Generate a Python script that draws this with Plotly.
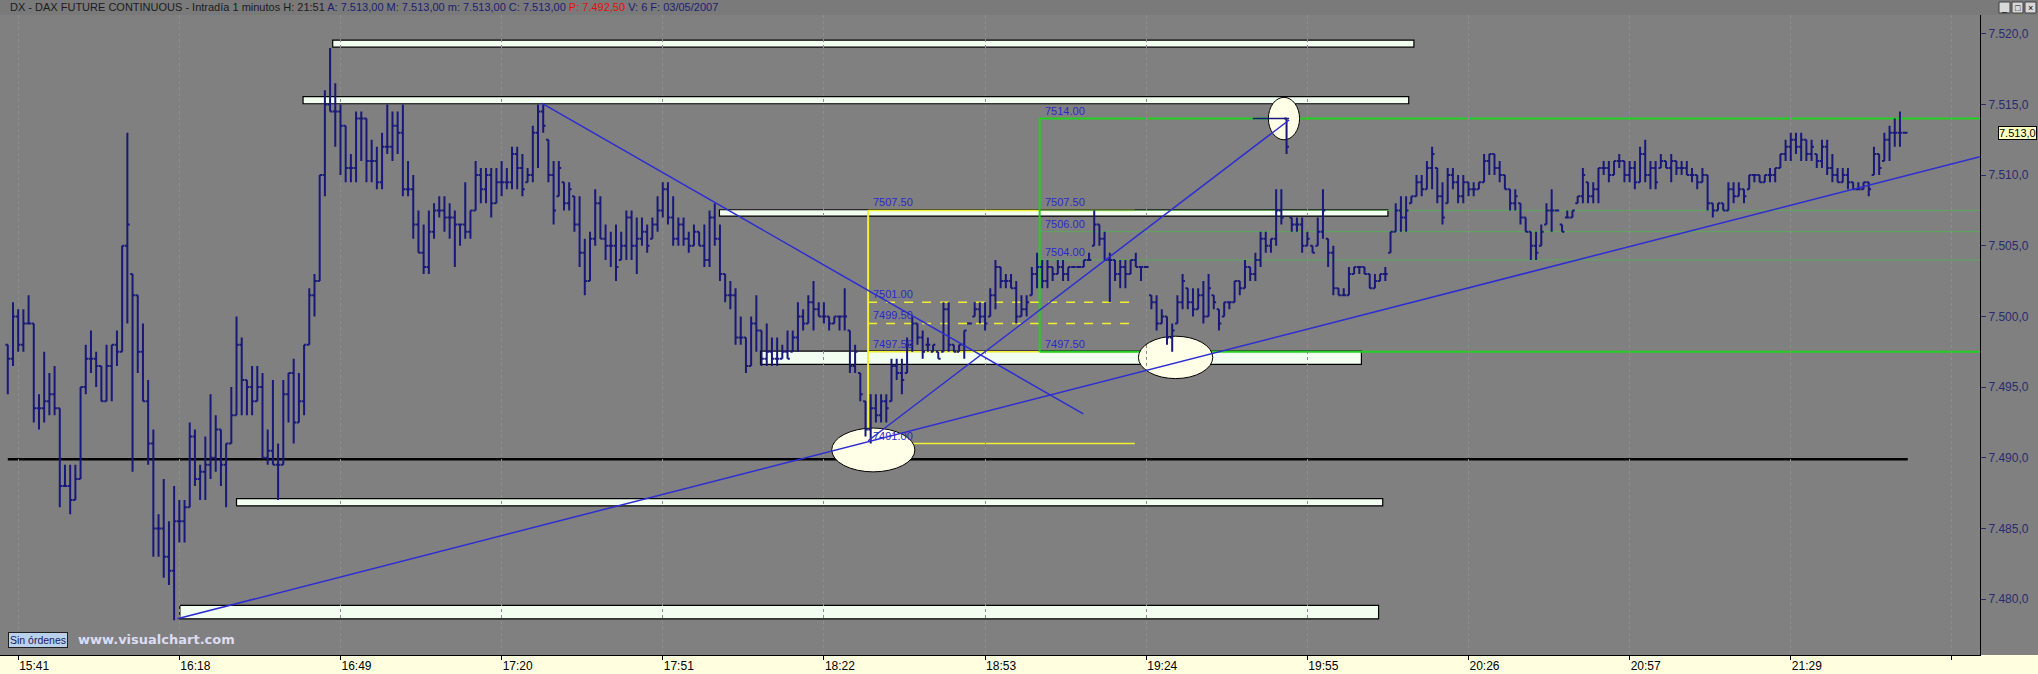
import plotly.graph_objects as go

# ---------------- data (1-minute OHLC bars, DAX future, 03/05/2007) ----------------
bar_open = [
    7498, 7497, 7500, 7498, 7499.5, 7499.5, 7493.5, 7493.5, 7494, 7494.5,
    7493.5, 7488, 7488, 7487, 7488.5, 7495, 7497, 7497, 7496.5, 7494,
    7496.5, 7498, 7497.5, 7505, 7503, 7501.5, 7497.5, 7494, 7491, 7485,
    7485, 7483, 7482, 7485.5, 7485.5, 7486.5, 7491.5, 7488.5, 7489, 7489.5,
    7490, 7492, 7489.5, 7491, 7493, 7498, 7495.5, 7495, 7494, 7495,
    7490, 7490.5, 7489.5, 7489.5, 7494.5, 7496, 7492.5, 7494, 7498, 7501.5,
    7502.5, 7510, 7515, 7514.5, 7514.5, 7513.5, 7510.5, 7510.5, 7514, 7514,
    7511, 7511, 7509.5, 7512, 7512, 7513.5, 7513, 7509, 7509, 7506.5,
    7504.5, 7503.5, 7506, 7507.5, 7507.5, 7507, 7507, 7506.5, 7506.5, 7506,
    7507.5, 7510, 7509, 7510, 7508, 7509.5, 7509.5, 7509.5, 7511.5, 7510.5,
    7509.5, 7510, 7513, 7514.5, 7512.5, 7510, 7508.5, 7509.5, 7508, 7508.5,
    7506.5, 7504.5, 7502.5, 7505.5, 7508, 7505.5, 7505, 7505, 7504, 7505,
    7507, 7505, 7505.5, 7506, 7505.5, 7506.5, 7507.5, 7509, 7507, 7505.5,
    7506.5, 7505.5, 7505, 7506, 7505, 7504, 7507, 7505.5, 7503, 7501.5,
    7501.5, 7498.5, 7498.5, 7496.5, 7499.5, 7499, 7497, 7497.5, 7497, 7497,
    7497.5, 7497.5, 7498.5, 7500, 7499.5, 7501, 7500.5, 7500, 7500, 7499.5,
    7500, 7500, 7499, 7496.5, 7496, 7494, 7492, 7493.5, 7493, 7494,
    7494, 7496.5, 7496, 7496, 7498, 7499.5, 7498.5, 7498, 7497.5, 7497.5,
    7497.5, 7500.5, 7498, 7497.5, 7498, 7499.5, 7500, 7500.5, 7500, 7500,
    7501.5, 7503.5, 7502.5, 7502.5, 7502, 7500, 7500.5, 7501.5, 7503, 7503.5,
    7502.5, 7503.5, 7503, 7503.5, 7503, 7503.5, 7503.5, 7503.5, 7504, 7505,
    7506.5, 7505.5, 7504, 7504, 7503, 7503.5, 7503, 7504, 7503.5, 7503.5,
    7501.5, 7501, 7499.5, 7500, 7498.5, 7499.5, 7501, 7502, 7501, 7500.5,
    7501.5, 7500, 7501.5, 7500.5, 7500, 7501, 7501, 7502.5, 7502, 7503.5,
    7503, 7504, 7505.5, 7505, 7505.5, 7507.5, 7514, 7507, 7506.5, 7506.5,
    7505, 7505, 7505, 7506, 7505.5, 7504.5, 7502, 7501.5, 7501.5, 7503,
    7503.5, 7503.5, 7503, 7502, 7502.5, 7503, 7504.5, 7506, 7507.5, 7507,
    7508, 7508.5, 7509.5, 7509, 7510.5, 7510.5, 7508.5, 7508, 7510, 7509.5,
    7508.5, 7509.5, 7509, 7509, 7509.5, 7511, 7511.5, 7510.5, 7510, 7509,
    7508, 7508, 7507, 7506, 7505, 7505, 7506.5, 7507.5, 7507.5, 7506.5,
    7507, 7507, 7508, 7508.5, 7509.5, 7508.5, 7509, 7510.5, 7510.5, 7510,
    7511, 7511, 7510, 7510.5, 7509.5, 7511.5, 7510, 7510.5, 7510.5, 7511,
    7510.5, 7511, 7510.5, 7510.5, 7510, 7510, 7509.5, 7510, 7508, 7507.5,
    7508, 7507.5, 7509, 7508.5, 7509, 7509, 7510, 7510, 7509.5, 7510,
    7510, 7510.5, 7511.5, 7512, 7512.5, 7512, 7512.5, 7511.5, 7511.5, 7511,
    7512, 7510.5, 7510, 7509.5, 7510, 7509.5, 7509, 7509, 7509.5, 7510,
    7511.5, 7511, 7512.5, 7513, 7513, 7513,
]
bar_high = [
    7498, 7501, 7500.5, 7500.5, 7501.5, 7499.5, 7494.5, 7497.5, 7496, 7496.5,
    7493.5, 7489.5, 7489.5, 7489.5, 7495, 7498, 7499, 7497.5, 7496.5, 7498,
    7498, 7499, 7505, 7513, 7503, 7501.5, 7499.5, 7495.5, 7492, 7486,
    7488.5, 7485.5, 7488, 7487, 7487, 7492.5, 7492, 7489.5, 7491.5, 7494.5,
    7493, 7492, 7491, 7495, 7500, 7498.5, 7495.5, 7496.5, 7496.5, 7496,
    7492, 7495.5, 7491, 7495.5, 7496, 7497, 7496, 7498, 7502, 7503,
    7510, 7516, 7519, 7516.5, 7515, 7513.5, 7511.5, 7514.5, 7514.5, 7514,
    7512.5, 7512, 7513, 7515, 7514.5, 7514.5, 7515, 7511, 7510, 7507.5,
    7506.5, 7507.5, 7508, 7508.5, 7508.5, 7508, 7507.5, 7506.5, 7509.5, 7507.5,
    7511, 7510.5, 7510.5, 7510.5, 7510.5, 7511, 7510.5, 7512, 7512, 7511.5,
    7510.5, 7513.5, 7515, 7515, 7512.5, 7511, 7511, 7509.5, 7509.5, 7508.5,
    7508.5, 7505.5, 7506, 7509, 7508.5, 7506.5, 7506, 7506.5, 7506, 7507.5,
    7507.5, 7507, 7507, 7506.5, 7507, 7508.5, 7509.5, 7509.5, 7508.5, 7507,
    7507, 7506, 7506.5, 7506, 7506.5, 7507.5, 7508, 7506.5, 7503, 7502.5,
    7502, 7500, 7498.5, 7500, 7501.5, 7499, 7499.5, 7498.5, 7498.5, 7498,
    7499, 7499, 7501, 7500.5, 7501.5, 7502.5, 7501, 7501, 7500, 7500,
    7500, 7502, 7499, 7498, 7496, 7494, 7494.5, 7494.5, 7494.5, 7494.5,
    7497, 7497, 7497, 7498.5, 7500, 7499.5, 7499, 7498.5, 7498, 7497.5,
    7501, 7501, 7498, 7498, 7499, 7499.5, 7501, 7501, 7501, 7502,
    7504, 7503.5, 7503, 7503, 7502.5, 7501.5, 7501.5, 7503.5, 7504.5, 7504,
    7504, 7503.5, 7504, 7504, 7503.5, 7503.5, 7503.5, 7504, 7504.5, 7507.5,
    7506.5, 7506, 7504.5, 7504, 7504, 7504, 7504, 7504.5, 7503.5, 7503.5,
    7501.5, 7501.5, 7500.5, 7500, 7499.5, 7501.5, 7503, 7502, 7502, 7502,
    7502.5, 7503, 7501.5, 7500.5, 7501, 7501, 7502.5, 7502.5, 7504, 7503.5,
    7504.5, 7506, 7506, 7505.5, 7509, 7509, 7514, 7507, 7507, 7507,
    7506, 7505, 7507, 7509, 7505.5, 7505, 7502, 7502, 7503.5, 7503.5,
    7503.5, 7503.5, 7503, 7503, 7503, 7503.5, 7506, 7508, 7508.5, 7508.5,
    7508.5, 7510, 7510, 7511, 7512, 7510.5, 7509.5, 7510.5, 7510.5, 7510,
    7510, 7509.5, 7509.5, 7509.5, 7511.5, 7511.5, 7511.5, 7511, 7510, 7509,
    7509, 7508, 7507, 7506, 7506, 7506.5, 7508, 7509, 7507.5, 7506.5,
    7507.5, 7507.5, 7508.5, 7510.5, 7509.5, 7509.5, 7510.5, 7511, 7511, 7511,
    7511.5, 7511, 7511, 7511, 7512, 7512.5, 7511, 7511, 7511.5, 7511,
    7511.5, 7511, 7511, 7511, 7510.5, 7510, 7510.5, 7510, 7508, 7508,
    7508, 7509.5, 7509.5, 7509.5, 7509, 7510, 7510, 7510, 7510, 7510.5,
    7510.5, 7511.5, 7512.5, 7513, 7513, 7513, 7512.5, 7512.5, 7511.5, 7512.5,
    7512.5, 7511.5, 7510.5, 7510.5, 7510.5, 7509.5, 7509.5, 7509.5, 7509.5, 7512,
    7511.5, 7513, 7513.5, 7514, 7514.5, 7513,
]
bar_low = [
    7494.5, 7496.5, 7497.5, 7497.5, 7499.5, 7492.5, 7492, 7492.5, 7493, 7493,
    7486.5, 7488, 7486, 7487, 7488.5, 7494.5, 7496, 7495, 7494, 7494,
    7494, 7496.5, 7497.5, 7499.5, 7489, 7496, 7494, 7489.5, 7483, 7483,
    7481.5, 7481, 7478.5, 7484, 7484, 7486.5, 7488, 7487, 7487, 7488.5,
    7489, 7488, 7486.5, 7491, 7493, 7493, 7493, 7493, 7494, 7490,
    7489.5, 7489.5, 7487, 7489.5, 7492.5, 7491, 7492.5, 7493, 7498, 7500,
    7502.5, 7508.5, 7514.5, 7512, 7510, 7509.5, 7509.5, 7509.5, 7511, 7509.5,
    7509.5, 7509, 7509, 7511.5, 7511, 7511.5, 7508.5, 7508.5, 7505.5, 7504.5,
    7503, 7503, 7505.5, 7507, 7506, 7505.5, 7503.5, 7505, 7505.5, 7505.5,
    7507.5, 7508, 7508, 7507, 7508, 7508.5, 7509, 7509, 7509, 7508.5,
    7509.5, 7509.5, 7510.5, 7513, 7509.5, 7506.5, 7508.5, 7507.5, 7507.5, 7506,
    7503.5, 7501.5, 7502.5, 7505, 7505.5, 7504, 7503.5, 7502.5, 7504, 7504,
    7504, 7503, 7505, 7504.5, 7505.5, 7506, 7507, 7506.5, 7505, 7505,
    7505, 7504.5, 7505, 7505, 7503.5, 7503.5, 7505, 7502.5, 7501, 7500.5,
    7498, 7498, 7496, 7496.5, 7497.5, 7496.5, 7496.5, 7496.5, 7496.5, 7497,
    7497, 7497.5, 7497.5, 7499, 7499.5, 7499, 7500, 7499.5, 7499, 7499.5,
    7499, 7499, 7496, 7496, 7494, 7491.5, 7491, 7492.5, 7492.5, 7492.5,
    7494, 7495.5, 7494.5, 7496, 7497.5, 7498, 7497, 7497.5, 7497.5, 7497,
    7497.5, 7497.5, 7497.5, 7497.5, 7497, 7499.5, 7500, 7499.5, 7499, 7500,
    7500.5, 7502, 7502, 7502, 7499.5, 7500, 7500, 7501.5, 7502, 7502,
    7502, 7502.5, 7503, 7502.5, 7502.5, 7503.5, 7503.5, 7503.5, 7504, 7505,
    7505, 7504, 7501, 7502.5, 7502, 7502, 7503, 7503.5, 7502.5, 7503.5,
    7500.5, 7499, 7499.5, 7498, 7497.5, 7499.5, 7500.5, 7500.5, 7500, 7500.5,
    7499.5, 7500, 7500.5, 7499, 7500, 7500.5, 7501, 7501.5, 7502, 7502.5,
    7502.5, 7503.5, 7504.5, 7504.5, 7505, 7506.5, 7511.5, 7506, 7506, 7504.5,
    7505, 7504.5, 7505, 7505.5, 7503.5, 7501.5, 7501.5, 7501.5, 7501.5, 7503,
    7503, 7503, 7502, 7502, 7502.5, 7502.5, 7504.5, 7506, 7506, 7506,
    7508, 7508.5, 7508.5, 7509, 7509, 7508, 7506.5, 7508, 7509, 7508,
    7508, 7508.5, 7508.5, 7509, 7509.5, 7510, 7510, 7509.5, 7509, 7507.5,
    7507.5, 7506.5, 7506, 7504, 7504, 7505, 7506.5, 7506, 7507.5, 7506,
    7507, 7507, 7508, 7508, 7508, 7508, 7508, 7510, 7509.5, 7510,
    7510.5, 7509.5, 7509.5, 7509, 7509.5, 7509.5, 7509, 7509, 7510.5, 7510.5,
    7509.5, 7510, 7510, 7510, 7509.5, 7509, 7509.5, 7507.5, 7507, 7507.5,
    7507.5, 7507.5, 7508, 7508.5, 7508, 7509, 7509.5, 7509.5, 7509.5, 7509.5,
    7509.5, 7510.5, 7511, 7511, 7511.5, 7511, 7511, 7511, 7510.5, 7510.5,
    7510, 7509.5, 7509.5, 7509.5, 7509, 7509, 7509, 7509, 7508.5, 7510,
    7510, 7511, 7511, 7512, 7512, 7513,
]
bar_close = [
    7497, 7500, 7498, 7499.5, 7499.5, 7493.5, 7493.5, 7494, 7494.5, 7493.5,
    7488, 7488, 7487, 7488.5, 7495, 7497, 7497, 7496.5, 7494, 7496.5,
    7498, 7497.5, 7505, 7506.5, 7501.5, 7497.5, 7494, 7491, 7485, 7485,
    7483, 7482, 7485.5, 7485.5, 7486.5, 7491.5, 7488.5, 7489, 7489.5, 7490,
    7492, 7489.5, 7491, 7493, 7498, 7495.5, 7495, 7494, 7495, 7490,
    7490.5, 7489.5, 7489.5, 7494.5, 7496, 7492.5, 7494, 7498, 7501.5, 7502.5,
    7510, 7515, 7514.5, 7514.5, 7513.5, 7510.5, 7510.5, 7514, 7514, 7511,
    7511, 7509.5, 7512, 7512, 7513.5, 7513, 7509, 7509, 7506.5, 7504.5,
    7503.5, 7506, 7507.5, 7507.5, 7507, 7507, 7506.5, 7506.5, 7506, 7507.5,
    7510, 7509, 7510, 7508, 7509.5, 7509.5, 7509.5, 7511.5, 7510.5, 7509,
    7510, 7513, 7514.5, 7513.5, 7510, 7507.5, 7510.5, 7508, 7509, 7506.5,
    7504.5, 7502.5, 7505.5, 7508, 7505.5, 7505, 7505, 7503.5, 7505, 7507,
    7505, 7505.5, 7506, 7505, 7506.5, 7507.5, 7509, 7507, 7505.5, 7506.5,
    7505.5, 7505, 7506, 7505, 7504, 7507, 7505.5, 7503, 7501.5, 7501.5,
    7498.5, 7498.5, 7496.5, 7499.5, 7499, 7497, 7497.5, 7497, 7497, 7497.5,
    7497, 7498.5, 7500, 7499.5, 7501, 7500.5, 7500, 7500, 7499.5, 7500,
    7500, 7500, 7496.5, 7497.5, 7494.5, 7492, 7493.5, 7493, 7494, 7493.5,
    7496.5, 7496, 7495.5, 7498, 7499.5, 7498.5, 7497.5, 7498, 7498, 7497,
    7500.5, 7498, 7497.5, 7498, 7499, 7499.5, 7500.5, 7500, 7499.5, 7501.5,
    7503.5, 7502.5, 7502.5, 7502, 7500, 7500.5, 7501, 7503, 7503.5, 7502.5,
    7503.5, 7503, 7503.5, 7503, 7503.5, 7503.5, 7503.5, 7504, 7504, 7506.5,
    7505.5, 7504, 7504, 7503, 7503.5, 7503, 7504, 7503.5, 7503.5, 7503.5,
    7501, 7499.5, 7500, 7498.5, 7499, 7501, 7502.5, 7501, 7500.5, 7501.5,
    7500, 7502, 7501, 7499.5, 7501, 7501, 7502.5, 7502, 7503.5, 7503,
    7504, 7505.5, 7505, 7505.5, 7507.5, 7507, 7512, 7506.5, 7506.5, 7505,
    7505.5, 7504.5, 7506, 7507.5, 7504.5, 7502, 7501.5, 7501.5, 7503, 7503.5,
    7503.5, 7503, 7502, 7502.5, 7503, 7503, 7506, 7507.5, 7507, 7507.5,
    7508.5, 7509.5, 7509, 7510.5, 7511.5, 7508.5, 7507, 7510, 7509.5, 7508.5,
    7509.5, 7509, 7509, 7509.5, 7511, 7511.5, 7510.5, 7510, 7509, 7508,
    7508.5, 7507, 7506, 7505, 7504.5, 7506, 7507.5, 7507.5, 7507.5, 7506,
    7507, 7507.5, 7508.5, 7510, 7508.5, 7509, 7510.5, 7510.5, 7510, 7511,
    7511, 7510, 7510.5, 7509.5, 7511.5, 7510, 7510.5, 7509.5, 7511, 7510.5,
    7511, 7510.5, 7510.5, 7510, 7510, 7509.5, 7510, 7508, 7507.5, 7508,
    7507.5, 7509, 7508.5, 7509, 7508.5, 7510, 7510, 7509.5, 7510, 7510,
    7510.5, 7511.5, 7512, 7512.5, 7512, 7512.5, 7511.5, 7512, 7511, 7512,
    7510.5, 7510, 7509.5, 7510, 7509.5, 7509, 7509, 7509.5, 7509, 7511.5,
    7510.5, 7512.5, 7513, 7513, 7513, 7513,
]
assert len(bar_open) == len(bar_high) == len(bar_low) == len(bar_close)
bar_index = list(range(len(bar_close)))

# x-axis: bar index ticks every 31 bars with time labels
time_tick_index = [2, 33, 64, 95, 126, 157, 188, 219, 250, 281, 312, 343, 374]
time_tick_label = ["15:41", "16:18", "16:49", "17:20", "17:51", "18:22", "18:53",
                   "19:24", "19:55", "20:26", "20:57", "21:29", ""]

# y-axis prices
price_ticks = [7480, 7485, 7490, 7495, 7500, 7505, 7510, 7515, 7520]
price_tick_text = ["7.480,0", "7.485,0", "7.490,0", "7.495,0", "7.500,0",
                   "7.505,0", "7.510,0", "7.515,0", "7.520,0"]
last_price = 7513.0
last_price_text = "7.513,0"

# support / resistance boxes: (start bar, end bar, low price, high price)
box_start = [62.5, 56.8, 136.9, 144.8, 44.0, 33.1]
box_end = [270.5, 269.5, 265.5, 260.4, 264.5, 263.7]
box_low = [7519.05, 7515.05, 7507.1, 7496.6, 7486.6, 7478.6]
box_high = [7519.55, 7515.55, 7507.55, 7497.55, 7487.1, 7479.55]

# horizontal black level
black_level = 7489.9
black_level_span = [0.0, 365.5]

# trend lines: (bar0, price0, bar1, price1)
trend_x0 = [32.6, 102.7, 165.5]
trend_y0 = [7478.6, 7515.1, 7491.2]
trend_x1 = [379.4, 206.9, 246.5]
trend_y1 = [7511.3, 7493.1, 7513.9]

# yellow retracement drawing
yellow_start, yellow_end = 165.5, 216.8
yellow_levels = [7507.5, 7501.0, 7499.5, 7497.5, 7491.0]
yellow_labels = ["7507.50", "7501.00", "7499.50", "7497.50", "7491.00"]
yellow_dashed = [False, True, True, False, False]

# green retracement drawing
green_start = 198.5
green_levels = [7514.0, 7507.5, 7506.0, 7504.0, 7497.5]
green_labels = ["7514.00", "7507.50", "7506.00", "7504.00", "7497.50"]
green_strong = [True, False, False, False, True]

# highlight ellipses: (bar0, bar1, price0, price1)
ell_x0 = [158.5, 217.5, 242.5]
ell_x1 = [174.5, 231.8, 248.5]
ell_y0 = [7489.0, 7495.6, 7512.5]
ell_y1 = [7492.1, 7498.6, 7515.5]

# ---------------- styling ----------------
W, H = 2038, 674
ML, MR, MT, MB = 0, 58, 15, 19
PW, PH = W - ML - MR, H - MT - MB
X_RANGE = [-1.5, 379.4]
Y_RANGE = [7476.04, 7521.33]
BG = "#808080"
BAR = "#18187a"
BLUE_LINE = "#2d2dd2"
LABEL_BLUE = "#2a2acc"
YELLOW = "#f0f030"
GREEN_STRONG = "#22d022"
GREEN_WEAK = "#5aa85a"
FONT = "Liberation Sans, Arial, sans-serif"


def px_x(px):
    return (px - ML) / PW


def px_y(py):
    return (MT + PH - py) / PH


fig = go.Figure()
fig.add_trace(go.Ohlc(
    x=bar_index, open=bar_open, high=bar_high, low=bar_low, close=bar_close,
    increasing=dict(line=dict(color=BAR, width=2)),
    decreasing=dict(line=dict(color=BAR, width=2)),
    tickwidth=0.45, hoverinfo="skip", showlegend=False,
))

shapes = []
# header band and bottom time strip
shapes.append(dict(type="rect", xref="paper", yref="paper", x0=-0.01, x1=1.05,
                   y0=1.0, y1=1.06, fillcolor="#7a7a7a", line=dict(width=0), layer="below"))
shapes.append(dict(type="rect", xref="paper", yref="paper", x0=-0.01, x1=1.05,
                   y0=-0.06, y1=0.0, fillcolor="#ffffe0", line=dict(width=0), layer="below"))
# black level line
shapes.append(dict(type="line", xref="x", yref="y", x0=black_level_span[0], x1=black_level_span[1],
                   y0=black_level, y1=black_level, line=dict(color="black", width=2.5), layer="below"))
# white boxes
for x0, x1, y0, y1 in zip(box_start, box_end, box_low, box_high):
    shapes.append(dict(type="rect", xref="x", yref="y", x0=x0, x1=x1, y0=y0, y1=y1,
                       fillcolor="#f2fff0", line=dict(color="black", width=1.2), layer="below"))
# yellow drawing
shapes.append(dict(type="line", xref="x", yref="y", x0=yellow_start, x1=yellow_start,
                   y0=yellow_levels[-1] - 0.6, y1=yellow_levels[0],
                   line=dict(color=YELLOW, width=2), layer="below"))
for lv, dashed in zip(yellow_levels, yellow_dashed):
    shapes.append(dict(type="line", xref="x", yref="y", x0=yellow_start, x1=yellow_end,
                       y0=lv, y1=lv, line=dict(color=YELLOW, width=1.5,
                                               dash="dash" if dashed else "solid"),
                       layer="below"))
# green drawing
shapes.append(dict(type="line", xref="x", yref="y", x0=green_start, x1=green_start,
                   y0=green_levels[-1], y1=green_levels[0],
                   line=dict(color=GREEN_STRONG, width=2), layer="below"))
for lv, strong in zip(green_levels, green_strong):
    shapes.append(dict(type="line", xref="x", yref="y", x0=green_start, x1=X_RANGE[1],
                       y0=lv, y1=lv,
                       line=dict(color=GREEN_STRONG if strong else GREEN_WEAK,
                                 width=2 if strong else 1),
                       layer="below"))
# ellipses
for x0, x1, y0, y1 in zip(ell_x0, ell_x1, ell_y0, ell_y1):
    shapes.append(dict(type="circle", xref="x", yref="y", x0=x0, x1=x1, y0=y0, y1=y1,
                       fillcolor="#ffffe8", line=dict(color="black", width=1), layer="below"))
# trend lines (above bars)
for x0, y0, x1, y1 in zip(trend_x0, trend_y0, trend_x1, trend_y1):
    shapes.append(dict(type="line", xref="x", yref="y", x0=x0, y0=y0, x1=x1, y1=y1,
                       line=dict(color=BLUE_LINE, width=1.5), layer="above"))
shapes.append(dict(type="line", xref="x", yref="y", x0=239.5, x1=246.5,
                   y0=green_levels[0], y1=green_levels[0],
                   line=dict(color=BAR, width=1.5), layer="above"))
# window buttons top right
for i in range(3):
    bx = 1999 + i * 13
    shapes.append(dict(type="rect", xref="paper", yref="paper",
                       x0=px_x(bx), x1=px_x(bx + 11), y0=px_y(13), y1=px_y(2),
                       fillcolor="#d8d8d8", line=dict(color="#404040", width=1), layer="above"))

annotations = []
header = ("DX - DAX FUTURE CONTINUOUS - Intradía 1 minutos H: 21:51 "
          "<span style='color:#1c1c70'>A: 7.513,00 M: 7.513,00 m: 7.513,00 C: 7.513,00</span> "
          "<span style='color:#e01010'>P: 7.492,50</span> "
          "<span style='color:#1c1c70'>V: 6 F: 03/05/2007</span>")
annotations.append(dict(xref="paper", yref="paper", x=px_x(8), y=px_y(7), xanchor="left",
                        yanchor="middle", showarrow=False, text=header,
                        font=dict(family=FONT, size=11, color="#1a1a1a")))
for sym, i in zip(["_", "□", "×"], range(3)):
    annotations.append(dict(xref="paper", yref="paper", x=px_x(2004.5 + i * 13), y=px_y(7.5),
                            xanchor="center", yanchor="middle", showarrow=False, text=sym,
                            font=dict(family=FONT, size=9, color="black")))
for lv, lab in zip(yellow_levels, yellow_labels):
    annotations.append(dict(xref="x", yref="y", x=yellow_start + 0.6, y=lv, xanchor="left",
                            yanchor="bottom", yshift=0, showarrow=False, text=lab,
                            font=dict(family=FONT, size=11, color=LABEL_BLUE)))
for lv, lab in zip(green_levels, green_labels):
    annotations.append(dict(xref="x", yref="y", x=green_start + 0.6, y=lv, xanchor="left",
                            yanchor="bottom", yshift=0, showarrow=False, text=lab,
                            font=dict(family=FONT, size=11, color=LABEL_BLUE)))
annotations.append(dict(xref="paper", yref="y", x=px_x(1998), y=last_price, xanchor="left",
                        yanchor="middle", xshift=0, showarrow=False, text=last_price_text,
                        bgcolor="#ffffc0", bordercolor="black", borderwidth=1, borderpad=0,
                        font=dict(family=FONT, size=11, color="black")))
annotations.append(dict(xref="paper", yref="paper", x=px_x(8), y=px_y(640), xanchor="left",
                        yanchor="middle", showarrow=False, text="Sin órdenes",
                        bgcolor="#b9d1ea", bordercolor="#202020", borderwidth=1, borderpad=1,
                        font=dict(family=FONT, size=10.5, color="#1a1a60")))
annotations.append(dict(xref="paper", yref="paper", x=px_x(76), y=px_y(639), xanchor="left",
                        yanchor="middle", showarrow=False, text="<b>www.visualchart.com</b>",
                        font=dict(family="DejaVu Sans, Verdana, sans-serif", size=13,
                                  color="#dcdcf2")))

fig.update_layout(
    width=W, height=H, margin=dict(l=ML, r=MR, t=MT, b=MB, pad=0),
    paper_bgcolor=BG, plot_bgcolor=BG, showlegend=False,
    shapes=shapes, annotations=annotations,
    font=dict(family=FONT),
    xaxis=dict(range=X_RANGE, tickmode="array", tickvals=time_tick_index, ticktext=time_tick_label,
               ticks="outside", ticklen=4, tickcolor="black", showline=True, linecolor="black",
               linewidth=1, showgrid=True, gridcolor="#8e8e8e", griddash="dot", gridwidth=1,
               zeroline=False, ticklabelposition="outside right",
               tickfont=dict(family=FONT, size=12, color="black"),
               rangeslider=dict(visible=False), fixedrange=True),
    yaxis=dict(range=Y_RANGE, side="right", tickmode="array", tickvals=price_ticks,
               ticktext=price_tick_text, ticks="outside", ticklen=5, tickcolor="#2a2a6e",
               showline=True, linecolor="black", linewidth=1, showgrid=False, zeroline=False,
               tickfont=dict(family=FONT, size=12, color="#2a2a6e"), fixedrange=True),
)

fig.write_html("out.html", config={"displayModeBar": False},
               post_script="document.body.style.margin='0px';")
